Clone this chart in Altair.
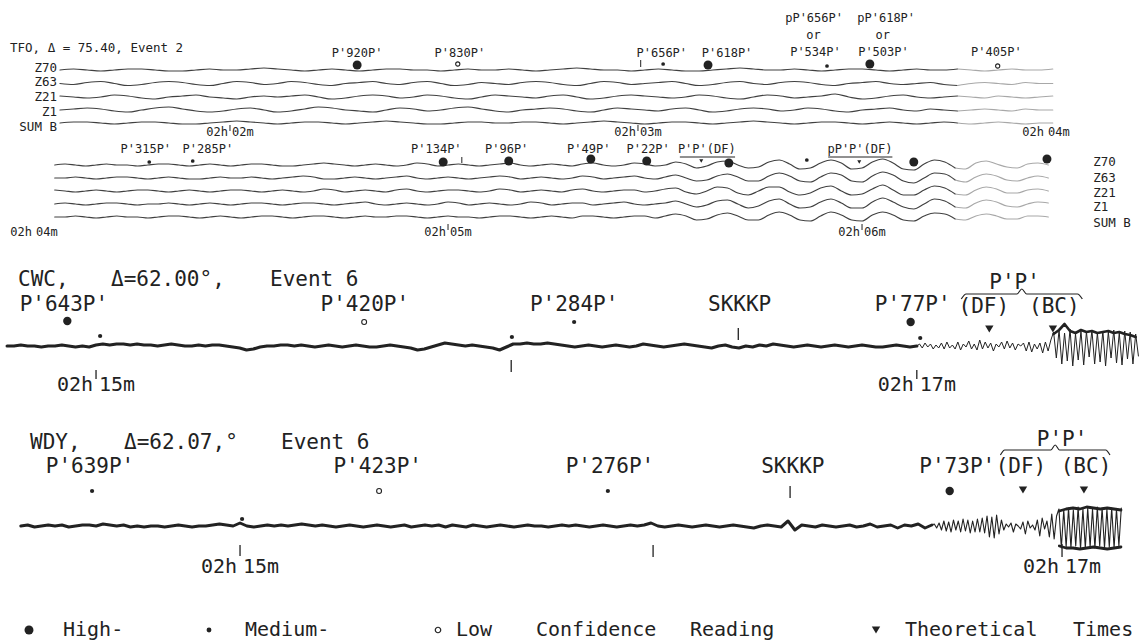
import altair as alt
import pandas as pd

W = 1143
FONT = "DejaVu Sans Mono"
INK = "#222222"
PEN = "#404040"      # thin array traces
PALE = "#a8a8a8"     # faded ends of the array strips

# Seconds after 02h00m00s spanned by each strip, left edge to right edge
TFO1_WINDOW = [86.18, 254.27]
TFO2_WINDOW = [235.07, 400.72]
CWC_WINDOW = [885.96, 1053.07]
WDY_WINDOW = [864.96, 1031.82]
STRIP_HEIGHTS = [140, 105, 165, 190, 43]

CHANNELS = ["Z70", "Z63", "Z21", "Z1", "SUM B"]

# ---------------- TFO, event 2, upper strip: samples every 2 s (px, up +)
TFO1_START, TFO1_STEP, TFO1_FADE = 95.0, 2.0, 227.0
TFO1_Z70 = [0, 1, 0, -1, 0, 1, 1, 0, -1, -1, 0, 1, 0, 0, 1, 2, 1, 0, -1, 0,
            1, 0, -1, 0, 1, 1, 0, 0, -1, 0, 1, 0, 0, 1, 0, -1, 0, 1, 2, 1,
            0, 0, -1, 0, 1, 0, -1, -1, 0, 1, 2, 1, 0, 0, 1, 0, -1, 0, 1, 1,
            0, -1, 0, 1, 0, 0, 1, 0, -1, 0, 1, 0, 0, 1]
TFO1_Z63 = [0, -1, 1, 2, 0, -2, -1, 1, 2, 1, -1, -2, 0, 2, 1, -1, 0, 2, 1, -1,
            -2, 0, 1, 2, 0, -1, 1, 2, 0, -2, -1, 1, 0, -1, 1, 2, 1, -1, -2, 0,
            2, 1, -1, 0, 1, 2, 0, -2, -1, 1, 2, 0, -1, 1, 2, 1, -1, -2, 0, 1,
            2, 0, -1, 0, 1, -1, -2, 0, 1, 0, -1, 1, 0, 0]
TFO1_Z21 = [1, 0, -1, 0, 2, 1, -1, -2, 0, 1, 2, 0, -1, -2, 0, 1, 0, 1, 2, 0,
            -2, -1, 1, 2, 1, -1, 0, 2, 1, -1, -2, 0, 2, 1, 0, -1, 1, 2, 0, -2,
            -1, 1, 2, 1, 0, -1, 0, 2, 1, -1, -2, 0, 2, 1, -1, 0, 1, 3, 0, -2,
            -1, 1, 2, 0, -1, 0, 1, 0, -1, 1, 0, -1, 0, 1]
TFO1_Z1 = [0, 1, 2, 1, -1, -2, 0, 2, 3, 1, -1, -2, -1, 1, 2, 0, -2, -1, 1, 3,
           2, 0, -1, -2, 0, 2, 1, -1, 0, 2, 3, 1, -1, -2, 0, 1, 2, 1, -1, -2,
           0, 2, 1, 0, -1, 1, 2, 0, -2, -1, 1, 2, 1, -1, 0, 2, 1, -1, -2, 0,
           1, 2, 0, -1, 1, 0, -1, 0, 1, 0, -1, 1, 0, 0]
TFO1_SUMB = [0, 1, 1, 0, -1, 0, 1, 1, 0, -1, -1, 0, 1, 2, 1, 0, -1, 0, 1, 1,
             0, -1, 0, 1, 2, 1, 0, -1, -1, 0, 1, 1, 0, 0, 1, 1, 0, -1, 0, 1,
             2, 1, 0, -1, 0, 1, 1, 0, -1, 0, 1, 2, 1, 0, -1, 0, 1, 1, 0, -1,
             0, 1, 0, -1, 0, 1, 0, -1, 0, 1, 0, -1, 0, 0]
TFO1_LANES = [70, 83.5, 97, 110, 123]
TFO1_NAME_Y = [68, 82, 97, 112, 127]

# ---------------- TFO, event 2, lower strip: samples every 1.5 s
TFO2_START, TFO2_STEP, TFO2_FADE = 243.0, 1.5, 373.0
TFO2_Z70 = [0, 1, 0, -1, 0, 1, 0, 0, -1, 0, 1, 1, 0, -1, 0, 1, 0, -1, 0, 1,
            1, 0, -1, -1, 0, 1, 2, 1, 0, -1, 0, 1, 0, -1, 0, 2, 1, -1, 0, 1,
            0, -1, 0, 1, 2, 0, -1, 0, 1, 0, -1, 1, 2, 0, -1, 0, 2, 1, -1,
            0, 3, 1, -3, -1, 3, 4, 0, -3, -2, 3, 5, 1, -4, -3, 2, 5, 2, -4, -3,
            3, 6, 2, -4, -5, 1, 5, 3, -3, -4, 2, 4, 1, -2, -3, 1, 2, 0]
TFO2_Z63 = [0, 0, 1, 0, -1, 0, 1, 1, 0, -1, 0, 1, 0, -1, -1, 0, 1, 0, 0, 1,
            0, -1, 0, 1, 2, 1, -1, -1, 0, 1, 0, -1, 0, 1, 2, 0, -1, 0, 1, 0,
            -1, 0, 1, 2, 1, -1, 0, 1, 0, -1, 0, 2, 1, -1, 0, 1, 2, 0, -1,
            1, 3, 0, -3, -2, 2, 4, 1, -3, -3, 2, 5, 2, -3, -4, 1, 5, 3, -3, -4,
            2, 6, 3, -3, -5, 0, 5, 4, -2, -4, 1, 4, 2, -2, -3, 0, 2, 0]
TFO2_Z21 = [1, 0, -1, 0, 1, 0, -1, 0, 1, 1, 0, -1, 0, 1, 0, -1, 0, 1, 1, 0,
            -1, 0, 1, 0, -1, 0, 2, 1, -1, 0, 1, 0, -1, 1, 2, 0, -1, 0, 1, 1,
            0, -1, 0, 2, 1, -1, 0, 1, 0, -1, 1, 2, 0, -1, 0, 1, 1, -1, 0,
            2, 3, -1, -3, 0, 4, 3, -2, -4, 0, 4, 4, -1, -4, -2, 3, 5, 0, -4, -3,
            2, 6, 1, -4, -4, 1, 5, 3, -3, -4, 1, 4, 2, -2, -2, 1, 2, 0]
TFO2_Z1 = [0, 1, 0, -1, 0, 1, 1, 0, -1, 0, 0, 1, 0, -1, 0, 1, 0, -1, 0, 1,
           1, 0, -1, 0, 1, 1, 0, -1, 0, 1, 2, 0, -1, 0, 1, 0, -1, 0, 2, 1,
           -1, 0, 1, 0, -1, 0, 2, 1, -1, 0, 1, 1, -1, 0, 1, 2, 0, -1, 0,
           1, 3, 0, -3, -1, 3, 4, 0, -4, -2, 3, 5, 0, -4, -3, 2, 5, 1, -4, -4,
           2, 6, 2, -3, -5, 0, 5, 3, -3, -4, 1, 4, 2, -2, -3, 0, 2, 1]
TFO2_SUMB = [0, 0, 1, 0, -1, 0, 1, 0, 0, -1, 0, 1, 1, 0, -1, 0, 1, 0, -1, 0,
             1, 1, 0, -1, 0, 1, 1, 0, -1, 0, 1, 0, 0, 1, 1, 0, -1, 0, 1, 0,
             0, -1, 0, 1, 1, 0, -1, 0, 1, 0, -1, 1, 1, 0, -1, 0, 1, 1, -1,
             1, 3, 1, -3, -2, 2, 4, 1, -3, -3, 2, 5, 2, -3, -4, 1, 5, 2, -3, -4,
             2, 5, 2, -3, -4, 1, 4, 3, -2, -3, 1, 3, 1, -2, -2, 1, 1, 0]
TFO2_LANES = [25, 38, 51, 64, 77]
TFO2_NAME_Y = [22, 38, 53, 67, 83]
TFO2_NAME_T = 393.5

# ---------------- CWC, event 6: 1 s samples, then 0.4 s through P'P'
CWC_START, CWC_STEP = 887.0, 1.0
CWC_TRACE = [0, 0, 1, 0, 0, -1, 0, 0, 1, 0, -1, 0, -1, 1,
             2, 1, 2, 2, 1, 2, 1, 1, 0, 1, 2, 1, 0, 0, 1, 0,
             1, 1, 0, -1, -2, -4, -3, -1, 0, 0,
             1, 1, 0, 1, 0, -1, 0, 1, 0, -1,
             0, 1, 0, -1, -1, 0, 1, 0, -1, -2,
             -4, -3, -1, 1, 3, 2, 1, 0, 1, 0,
             -1, -2, -4, -1, 2, 2, 3, 2, 2, 3,
             2, 1, 0, -1, 0, 1, 0, -1, 0, 1,
             0, -1, 0, 2, 1, 0, -1, 0, 1, 2,
             1, 0, -1, -2, 0, 1, -1, -2, 0, -1,
             1, 0, 2, 1, 0, -1, 0, 1, 0, -1,
             0, 1, 0, -1, 0, 1, 0, -1, -1, 0, 1, 0, -1, 0]
CWC_CODA_START, CWC_CODA_STEP = 1020.0, 0.4
CWC_CODA = [0,
            2, -2, 3, -1, 2, -3, 1, -2, 3, -3, 4, -2, 1, -3, 4, -4, 2, -1, 5, -3,
            2, -4, 6, -3, 4, -2, 3, -5, 2, -1, 4, -3, 5, -2, 3, -4, 2, 0, 3, -5,
            4, -6, 2, -3, 3, -7, 4, -5, 6,
            14, -12, 16, -18, 13, -15, 17, -20, 12, -14, 15, -19, 14, -11, 16, -18,
            13, -16, 15, -20, 14, -12, 16, -17, 13, -19, 15, -13, 14, -18, 12, -10]
CWC_CAP_START, CWC_CAP_STEP = 1040.0, 0.8
CWC_CAP = [12, 16, 22, 15, 13, 16, 14, 15, 13, 14, 15, 13, 14, 12, 11, 9]
CWC_LANE = 101

# ---------------- WDY, event 6: 1 s samples, then 0.35 s through P'P'
WDY_START, WDY_STEP = 868.0, 1.0
WDY_TRACE = [0, 1, -1, 0, 1, 0, 1, -1, 0, 1,
             1, 0, 2, 1, 0, 1, -1, 0, -1, 0,
             0, -1, 0, 1, 0, -1, 0, 0, 1, 2,
             1, 0, 3, 0, -1, 0, 1, 0, 1, 0,
             1, 2, 1, 0, 1, 0, -1, 0, 1, 0,
             -1, 0, 1, 0, -1, 0, 1, -1, 0, 1,
             0, 1, -1, 1, 0, -1, 1, 0, -1, 0,
             1, 0, -1, 0, 1, 0, 0, -1, 0, 1,
             0, 1, 0, -1, 0, 1, 0, -1, 0, 1,
             0, 1, 3, 0, -1, 0, 1, 0, -1, 0,
             1, 0, -1, 0, 1, 0, -1, -2, 0, 1,
             0, -1, 5, -4, 1, 0, -1, 1, 0, -1,
             0, 1, -1, 0, 2, -1, 0, 1, -2, 1, 0, 2, -2, 1]
WDY_CODA_START, WDY_CODA_STEP = 1001.0, 0.35
WDY_CODA = [1,
            2, -2, 3, -4, 5, -5, 4, -6, 6, -4, 5, -6, 7, -5, 6, -7, 5, -6, 7, -6, 8, -7,
            10, -11, 9, -12, 11, -8, 6, -4, 2, -1, 3, -6, 2, 0, -3, 4, -8, 5, -2, 1,
            -4, 6, -10, 8, -3, 5, -11, 12, -13, 10,
            17, -22, 16, -21, 18, -22, 16, -20, 19, -23, 17, -22, 18, -21, 17, -22,
            19, -20, 18, -22, 17, -21, 18, -22, 17, -20, 18]
WDY_BOX_START, WDY_BOX_STEP = 1019.6, 1.0
WDY_BOX_TOP = [15, 17, 18, 17, 19, 18, 17, 18, 17, 16]
WDY_BOX_BOTTOM = [-20, -22, -22, -23, -22, -21, -22, -23, -22, -21]
WDY_LANE = 116

# ---------------- readings: (label, time, row) and (time, row, confidence)
TFO1_LABELS = [("P'920P'", 138.7, 53), ("P'830P'", 153.8, 53), ("P'656P'", 183.5, 53),
               ("P'618P'", 193.1, 53), ("pP'656P'", 205.9, 18), ("or", 205.8, 35),
               ("P'534P'", 206.1, 52), ("pP'618P'", 216.5, 18), ("or", 216.0, 35),
               ("P'503P'", 216.1, 52), ("P'405P'", 232.7, 52)]
TFO1_DOTS = [(138.7, 65, "high"), (153.5, 64, "low"), (183.7, 64, "medium"),
             (190.3, 65, "high"), (207.8, 66, "medium"), (214.1, 64, "high"),
             (232.9, 66, "low")]
TFO1_TICKS = [(180.4, 60, 67), (120.0, 125, 131), (180.0, 125, 131)]
TFO1_CLOCK = [(120.0, "02h", "02m"), (180.0, "02h", "03m"), (240.0, "02h", "04m")]

TFO2_LABELS = [("P'315P'", 256.2, 9), ("P'285P'", 265.2, 9), ("P'134P'", 298.3, 9),
               ("P'96P'", 308.5, 9), ("P'49P'", 320.4, 9), ("P'22P'", 329.0, 9),
               ("P'P'(DF)", 337.5, 9), ("pP'P'(DF)", 359.7, 9)]
TFO2_UNDERLINES = [(333.6, 341.6, 17), (355.1, 364.4, 17)]
TFO2_DOTS = [(256.7, 22, "medium"), (263.0, 21, "medium"), (299.3, 22, "high"),
             (308.8, 21, "high"), (320.7, 19, "high"), (328.8, 21, "high"),
             (340.7, 23, "high"), (352.0, 20, "medium"), (367.5, 22, "high"),
             (386.8, 19, "high")]
TFO2_ARRIVALS = [(336.7, 21), (359.6, 22)]
TFO2_TICKS = [(302.0, 17, 23), (300.0, 84, 90), (360.0, 84, 90)]
TFO2_CLOCK = [(240.0, "02h", "04m"), (300.0, "02h", "05m"), (360.0, "02h", "06m")]

CWC_LABELS = [("P'643P'", 895.3, 60), ("P'420P'", 939.3, 60), ("P'284P'", 969.9, 60),
              ("SKKKP", 994.1, 60), ("P'77P'", 1019.4, 60), ("(DF)", 1029.8, 62),
              ("(BC)", 1040.1, 62), ("P'P'", 1034.3, 38)]
CWC_DOTS = [(895.8, 76, "high"), (900.6, 91, "medium"), (939.2, 77, "low"),
            (960.8, 92, "medium"), (969.9, 77, "medium"), (1019.1, 77, "high"),
            (1020.5, 93, "medium")]
CWC_ARRIVALS = [(1030.6, 84), (1039.9, 84)]
CWC_BRACE = (1026.5, 1044.2, 49)
CWC_TICKS = [(960.7, 115, 127), (993.9, 83, 95), (900.0, 125, 134), (1020.0, 125, 134)]
CWC_CLOCK = [(900.0, "02h", "15m"), (1020.0, "02h", "17m")]

WDY_LABELS = [("P'639P'", 878.1, 57), ("P'423P'", 920.1, 57), ("P'276P'", 954.0, 57),
              ("SKKKP", 980.7, 57), ("P'73P'", 1004.7, 57), ("(DF)", 1014.0, 57),
              ("(BC)", 1023.5, 57), ("P'P'", 1020.0, 30)]
WDY_DOTS = [(878.4, 81, "medium"), (920.3, 81, "low"), (953.7, 81, "medium"),
            (1003.6, 81, "high"), (900.3, 109, "medium")]
WDY_ARRIVALS = [(1014.3, 80), (1023.2, 80)]
WDY_BRACE = (1011.0, 1027.0, 40)
WDY_TICKS = [(980.3, 76, 88), (900.0, 135, 146), (960.3, 135, 147), (1020.0, 134, 147)]
WDY_CLOCK = [(900.0, "02h", "15m"), (1020.0, "02h", "17m")]


# ---------------------------------------------------------------- helpers
def X(window):
    return alt.X("t:Q", scale=alt.Scale(domain=window, nice=False, zero=False), axis=None)


def Y(h):
    return alt.Y("y:Q", scale=alt.Scale(domain=[0, h], reverse=True, nice=False, zero=False),
                 axis=None)


def faded_pair(key, values, start, step, fade):
    k = int(round((fade - start) / step))
    return [(key + "-a", values[:k + 1], start, PEN),
            (key + "-b", values[k:], start + k * step, PALE)]


def trace_frame(specs):
    rows = []
    for key, values, start, step, lane, width, tone in specs:
        for i, v in enumerate(values):
            rows.append({"key": key, "t": start + i * step, "y": lane - v,
                         "w": width, "tone": tone})
    return pd.DataFrame(rows)


def lines(df, window, h, interpolate):
    return alt.Chart(df).mark_line(interpolate=interpolate, strokeJoin="round",
                                   strokeCap="round").encode(
        x=X(window), y=Y(h), detail="key:N",
        color=alt.Color("tone:N", scale=None),
        strokeWidth=alt.StrokeWidth("w:Q", scale=None))


def labels(rows, window, h, size, align="center", dx=0):
    df = pd.DataFrame(rows, columns=["text", "t", "y"])
    return alt.Chart(df).mark_text(font=FONT, fontSize=size, align=align, baseline="middle",
                                   dx=dx, color=INK).encode(x=X(window), y=Y(h), text="text:N")


def dots(rows, window, h, sizes):
    df = pd.DataFrame(rows, columns=["t", "y", "conf"])
    out = []
    for conf, size in sizes.items():
        sub = df[df["conf"] == conf]
        if sub.empty:
            continue
        if conf == "low":
            mark = alt.Chart(sub).mark_point(shape="circle", filled=False, size=size,
                                             strokeWidth=1.1, color=INK, opacity=1)
        else:
            mark = alt.Chart(sub).mark_point(shape="circle", filled=True, size=size,
                                             color=INK, opacity=1)
        out.append(mark.encode(x=X(window), y=Y(h)))
    return out


def arrivals(rows, window, h, size):
    df = pd.DataFrame(rows, columns=["t", "y"])
    return alt.Chart(df).mark_point(shape="triangle-down", filled=True, size=size,
                                    color=INK, opacity=1).encode(x=X(window), y=Y(h))


def ticks(rows, window, h, width=1.2):
    df = pd.DataFrame(rows, columns=["t", "y", "y2"])
    return alt.Chart(df).mark_rule(color=INK, strokeWidth=width).encode(
        x=X(window), y=Y(h), y2="y2:Q")


def underlines(rows, window, h):
    df = pd.DataFrame(rows, columns=["t", "t2", "y"])
    return alt.Chart(df).mark_rule(color=INK, strokeWidth=1).encode(
        x=X(window), x2="t2:Q", y=Y(h))


def clock(rows, window, h, size, y, gap):
    left = labels([(hh, t, y) for t, hh, mm in rows], window, h, size, "right", -gap)
    right = labels([(mm, t, y) for t, hh, mm in rows], window, h, size, "left", gap)
    return [left, right]


def brace(span, window, h, depth=5):
    t0, t1, y = span
    tc = (t0 + t1) / 2
    k = (t1 - t0) * 0.04
    pts = [(t0, y + depth), (t0 + k, y), (tc - k, y), (tc, y - depth),
           (tc + k, y), (t1 - k, y), (t1, y + depth)]
    df = pd.DataFrame(pts, columns=["t", "y"])
    return alt.Chart(df).mark_line(color=INK, strokeWidth=1.2, interpolate="monotone").encode(
        x=X(window), y=Y(h), order=alt.Order("t:Q"))


def caption(items, size, y):
    out = []
    for text, px in items:
        out.append(alt.Chart(pd.DataFrame({"text": [text]})).mark_text(
            font=FONT, fontSize=size, align="left", baseline="middle", color=INK).encode(
            x=alt.value(px), y=alt.value(y), text="text:N"))
    return out


# ---------------------------------------------------------------- strips
H1, H2, H3, H4, H5 = STRIP_HEIGHTS

tfo1_series = [TFO1_Z70, TFO1_Z63, TFO1_Z21, TFO1_Z1, TFO1_SUMB]
specs = []
for name, vals, lane in zip(CHANNELS, tfo1_series, TFO1_LANES):
    for key, v, start, tone in faded_pair(name, vals, TFO1_START, TFO1_STEP, TFO1_FADE):
        specs.append((key, v, start, TFO1_STEP, lane, 1.2, tone))
tfo1 = alt.layer(
    lines(trace_frame(specs), TFO1_WINDOW, H1, "monotone"),
    *caption([("TFO, \u0394 = 75.40, Event 2", 10)], 12.5, 48),
    labels([(n, TFO1_START, y) for n, y in zip(CHANNELS, TFO1_NAME_Y)],
           TFO1_WINDOW, H1, 12.5, "right", -3),
    labels(TFO1_LABELS, TFO1_WINDOW, H1, 12),
    *dots(TFO1_DOTS, TFO1_WINDOW, H1, {"high": 80, "medium": 14, "low": 18}),
    ticks(TFO1_TICKS, TFO1_WINDOW, H1, 1),
    *clock(TFO1_CLOCK, TFO1_WINDOW, H1, 12, 132, 2),
).properties(width=W, height=H1)

tfo2_series = [TFO2_Z70, TFO2_Z63, TFO2_Z21, TFO2_Z1, TFO2_SUMB]
specs = []
for name, vals, lane in zip(CHANNELS, tfo2_series, TFO2_LANES):
    for key, v, start, tone in faded_pair(name, vals, TFO2_START, TFO2_STEP, TFO2_FADE):
        specs.append((key, v, start, TFO2_STEP, lane, 1.2, tone))
tfo2 = alt.layer(
    lines(trace_frame(specs), TFO2_WINDOW, H2, "monotone"),
    labels([(n, TFO2_NAME_T, y) for n, y in zip(CHANNELS, TFO2_NAME_Y)],
           TFO2_WINDOW, H2, 12.5, "left"),
    labels(TFO2_LABELS, TFO2_WINDOW, H2, 12),
    underlines(TFO2_UNDERLINES, TFO2_WINDOW, H2),
    *dots(TFO2_DOTS, TFO2_WINDOW, H2, {"high": 80, "medium": 14, "low": 18}),
    arrivals(TFO2_ARRIVALS, TFO2_WINDOW, H2, 16),
    ticks(TFO2_TICKS, TFO2_WINDOW, H2, 1),
    *clock(TFO2_CLOCK, TFO2_WINDOW, H2, 12, 92, 2),
).properties(width=W, height=H2)

cwc_specs = [
    ("cwc", CWC_TRACE, CWC_START, CWC_STEP, CWC_LANE, 3.2, INK),
    ("cwc-coda", CWC_CODA, CWC_CODA_START, CWC_CODA_STEP, CWC_LANE, 1.0, INK),
    ("cwc-cap", CWC_CAP, CWC_CAP_START, CWC_CAP_STEP, CWC_LANE, 2.6, INK),
]
cwc = alt.layer(
    lines(trace_frame(cwc_specs), CWC_WINDOW, H3, "linear"),
    *caption([("CWC,", 18), ("\u0394=62.00\u00b0,", 111), ("Event 6", 270)], 21, 35),
    labels(CWC_LABELS, CWC_WINDOW, H3, 21),
    brace(CWC_BRACE, CWC_WINDOW, H3),
    *dots(CWC_DOTS, CWC_WINDOW, H3, {"high": 70, "medium": 18, "low": 24}),
    arrivals(CWC_ARRIVALS, CWC_WINDOW, H3, 70),
    ticks(CWC_TICKS, CWC_WINDOW, H3, 1.3),
    *clock(CWC_CLOCK, CWC_WINDOW, H3, 20, 140, 3),
).properties(width=W, height=H3)

wdy_specs = [
    ("wdy", WDY_TRACE, WDY_START, WDY_STEP, WDY_LANE, 3.0, INK),
    ("wdy-coda", WDY_CODA, WDY_CODA_START, WDY_CODA_STEP, WDY_LANE, 1.1, INK),
    ("wdy-top", WDY_BOX_TOP, WDY_BOX_START, WDY_BOX_STEP, WDY_LANE, 2.8, INK),
    ("wdy-bottom", WDY_BOX_BOTTOM, WDY_BOX_START, WDY_BOX_STEP, WDY_LANE, 2.8, INK),
]
wdy = alt.layer(
    lines(trace_frame(wdy_specs), WDY_WINDOW, H4, "linear"),
    *caption([("WDY,", 30), ("\u0394=62.07,\u00b0", 124), ("Event 6", 281)], 21, 33),
    labels(WDY_LABELS, WDY_WINDOW, H4, 21),
    brace(WDY_BRACE, WDY_WINDOW, H4),
    *dots(WDY_DOTS, WDY_WINDOW, H4, {"high": 70, "medium": 18, "low": 24}),
    arrivals(WDY_ARRIVALS, WDY_WINDOW, H4, 70),
    ticks(WDY_TICKS, WDY_WINDOW, H4, 1.3),
    *clock(WDY_CLOCK, WDY_WINDOW, H4, 20, 157, 3),
).properties(width=W, height=H4)

# ---------------------------------------------------------------- key
KEY_Y = 30
KEY_SYMBOLS = [(29, "high"), (209, "medium"), (438, "low")]
KEY_WORDS = [("High-", 63), ("Medium-", 245), ("Low", 456), ("Confidence", 536),
             ("Reading", 690), ("Theoretical", 905), ("Times", 1073)]
key_layers = []
for px, conf in KEY_SYMBOLS:
    size = {"high": 80, "medium": 24, "low": 30}[conf]
    base = alt.Chart(pd.DataFrame({"c": [conf]}))
    if conf == "low":
        m = base.mark_point(shape="circle", filled=False, size=size, strokeWidth=1.2,
                            color=INK, opacity=1)
    else:
        m = base.mark_point(shape="circle", filled=True, size=size, color=INK, opacity=1)
    key_layers.append(m.encode(x=alt.value(px), y=alt.value(KEY_Y)))
key_layers.append(alt.Chart(pd.DataFrame({"c": ["theory"]})).mark_point(
    shape="triangle-down", filled=True, size=70, color=INK, opacity=1).encode(
    x=alt.value(876), y=alt.value(KEY_Y)))
key_layers += caption(KEY_WORDS, 20, KEY_Y)
key = alt.layer(*key_layers).properties(width=W, height=H5)

chart = alt.vconcat(tfo1, tfo2, cwc, wdy, key, spacing=0, bounds="flush").resolve_scale(
    x="independent", y="independent"
).properties(padding=0, background="white").configure_view(stroke=None)

chart.save("out.html", embed_options={"renderer": "svg", "actions": False})
